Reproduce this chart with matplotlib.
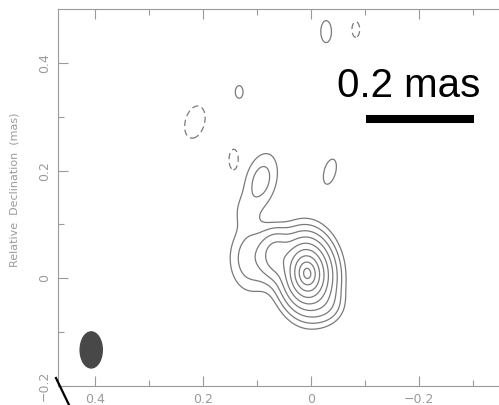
import numpy as np
import matplotlib
matplotlib.use('Agg')
import matplotlib.pyplot as plt
from matplotlib.lines import Line2D
from matplotlib.patches import Ellipse

# source model components (relative RA, Dec in mas); amplitudes in units of the lowest contour
comp_ra = [0.007, 0.0926, 0.124, 0.111, 0.065, -0.028,
           -0.028, 0.133, -0.035, 0.215, 0.143, -0.083]
comp_dec = [0.009, 0.181, 0.123, 0.037, 0.043, -0.050,
            0.458, 0.346, 0.198, 0.290, 0.220, 0.462]
comp_amp = [450.0, 2.6, 0.9, 3.0, 10.0, 2.0,
            1.9, 1.9, 1.9, -1.9, -1.9, -1.9]
comp_sx = [0.0117, 0.0204, 0.014, 0.026, 0.018, 0.020,
           0.0087, 0.0063, 0.0094, 0.0157, 0.0078, 0.0063]
comp_sy = [0.0168, 0.0374, 0.022, 0.040, 0.025, 0.020,
           0.018, 0.0103, 0.021, 0.027, 0.0174, 0.0127]
comp_rot = [-5, 15, 0, 0, 0, 0,
            0, 0, 15, 15, 0, 0]
comp_prof = ['exp', 'gauss', 'gauss', 'gauss', 'gauss', 'gauss',
             'gauss', 'gauss', 'gauss', 'gauss', 'gauss', 'gauss']

levels_pos = [1, 2, 4, 8, 16, 32, 64, 128, 256]
levels_neg = [-1]

# restoring beam
beam_ra, beam_dec = 0.407, -0.133
beam_w, beam_h = 0.041, 0.067

ra = np.linspace(-0.47, 0.49, 700)
dec = np.linspace(-0.22, 0.52, 540)
X, Y = np.meshgrid(ra, dec)
Z = np.zeros_like(X)
for x0, y0, a, sx, sy, rot, prof in zip(comp_ra, comp_dec, comp_amp, comp_sx,
                                        comp_sy, comp_rot, comp_prof):
    t = np.deg2rad(rot)
    dx, dy = X - x0, Y - y0
    u = dx * np.cos(t) + dy * np.sin(t)
    v = -dx * np.sin(t) + dy * np.cos(t)
    r2 = (u / sx) ** 2 + (v / sy) ** 2
    if prof == 'exp':
        Z += a * np.exp(-np.sqrt(r2))
    else:
        Z += a * np.exp(-0.5 * r2)

grey = '#7a7a7a'
axcol = '#9a9a9a'

fig = plt.figure(figsize=(4.99, 4.05), dpi=100)
ax = fig.add_axes([58 / 499, 19 / 405, 496 / 499, 377 / 405])

ax.contour(X, Y, Z, levels=levels_pos, colors=grey, linewidths=0.9)
ax.contour(X, Y, Z, levels=levels_neg, colors=grey, linewidths=0.9,
           linestyles=[(0, (5, 3))])

ax.add_patch(Ellipse((beam_ra, beam_dec), beam_w, beam_h,
                     facecolor='#484848', edgecolor='#484848'))

# scale bar
bar_len = 0.2
bar_x0, bar_y = -0.102, 0.296
ax.plot([bar_x0, bar_x0 - bar_len], [bar_y, bar_y], color='black', lw=5.8,
        solid_capstyle='butt')
fig.text(337 / 499, (405 - 97) / 405, '0.2 mas', fontsize=29,
         family='Liberation Sans', color='black', ha='left', va='baseline')

ax.set_xlim(0.4685, -0.45)
ax.set_ylim(-0.2, 0.5)
ax.set_xticks([0.4, 0.2, 0, -0.2])
ax.set_xticklabels(['0.4', '0.2', '0', '\u22120.2'])
ax.set_xticks([0.3, 0.1, -0.1, -0.3], minor=True)
ax.set_yticks([-0.2, 0, 0.2, 0.4])
ax.set_yticklabels(['\u22120.2', '0', '0.2', '0.4'], rotation=90, va='center')
ax.set_yticks([-0.1, 0.1, 0.3], minor=True)
ax.tick_params(which='both', direction='in', top=True, right=False,
               color=axcol, labelcolor=axcol, labelsize=9)
ax.tick_params(which='major', length=7, width=0.8, pad=5)
ax.tick_params(which='minor', length=4, width=0.8)
for side in ['left', 'bottom', 'top']:
    ax.spines[side].set_color(axcol)
    ax.spines[side].set_linewidth(0.8)
ax.spines['right'].set_visible(False)
ax.set_ylabel('Relative  Declination  (mas)', color=axcol, fontsize=8)
ax.yaxis.set_label_coords(-0.078, 0.52)

fig.add_artist(Line2D([56 / 499, 71 / 499], [(405 - 378) / 405, -0.01],
                      color='black', lw=1.6))

fig.savefig('out.png', dpi=100)
